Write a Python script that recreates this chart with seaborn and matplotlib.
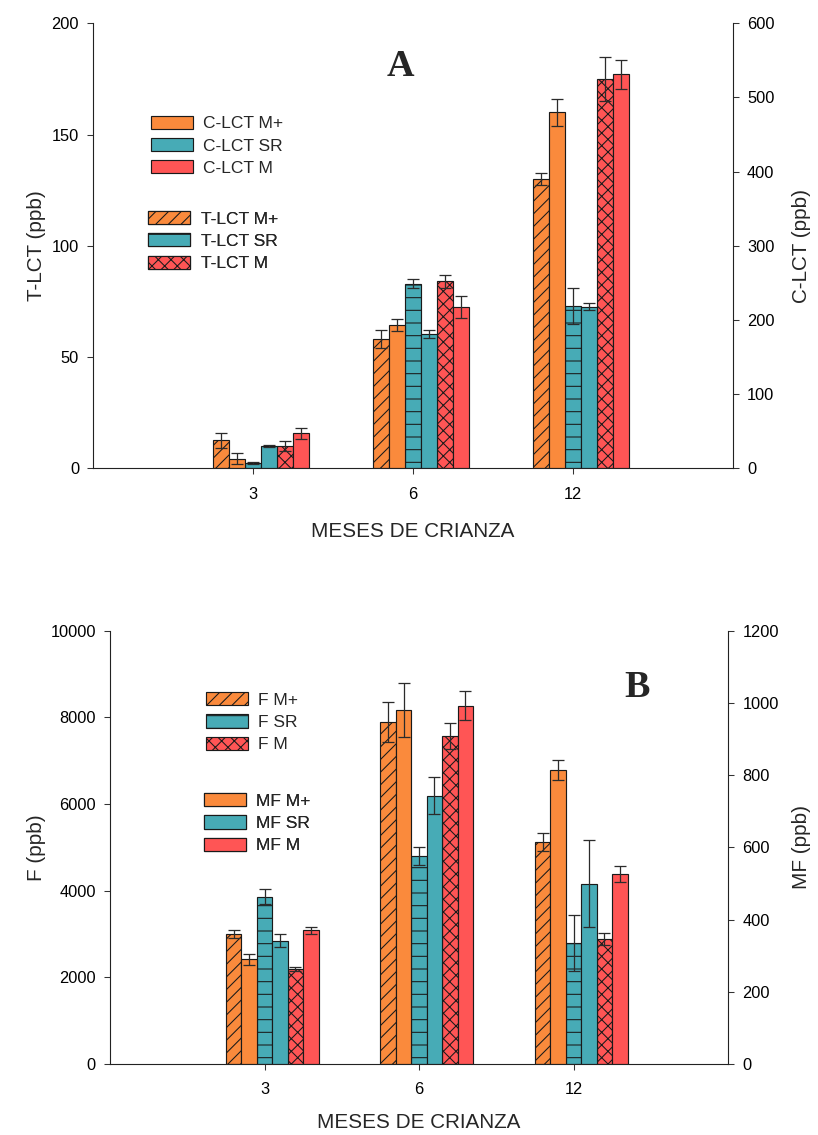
import matplotlib
matplotlib.use("Agg")
import matplotlib.pyplot as plt
import seaborn as sns
import pandas as pd
from matplotlib.patches import Patch

# ---------------- data ----------------
months = ["3", "6", "12"]

# Panel A (T-LCT on left axis, C-LCT on right axis), ppb
t_lct_mplus = [12.5, 58, 130]
t_lct_mplus_err = [3.5, 4, 2.7]
c_lct_mplus = [13, 193, 480]
c_lct_mplus_err = [7, 8, 18]
t_lct_sr = [2.5, 83, 73]
t_lct_sr_err = [0.5, 2, 8]
c_lct_sr = [30, 181, 218]
c_lct_sr_err = [1, 5, 5]
t_lct_m = [10, 84, 175]
t_lct_m_err = [2.2, 3, 10]
c_lct_m = [47, 217, 531]
c_lct_m_err = [7.5, 15, 19]

# Panel B (F on left axis, MF on right axis), ppb
f_mplus = [3000, 7900, 5115]
f_mplus_err = [100, 460, 210]
mf_mplus = [290, 981, 815]
mf_mplus_err = [15, 75, 28]
f_sr = [3860, 4800, 2800]
f_sr_err = [170, 215, 650]
mf_sr = [341, 743, 499]
mf_sr_err = [18, 52, 120]
f_m = [2190, 7570, 2890]
f_m_err = [55, 290, 140]
mf_m = [370, 992, 526]
mf_m_err = [10, 40, 22]

xlabel = "MESES DE CRIANZA"

# ---------------- style ----------------
ORANGE = "#FA8A3C"
TEAL = "#47ABB6"
RED = "#FF5555"
EDGE = "#1a1a1a"
ERRC = "#2b2b2b"

sns.set_style("ticks")
plt.rcParams["font.family"] = ["Liberation Sans", "DejaVu Sans"]
plt.rcParams["hatch.linewidth"] = 1.0
plt.rcParams["hatch.color"] = "black"
plt.rcParams["axes.linewidth"] = 1.0

DPI = 76
fig = plt.figure(figsize=(818 / DPI, 1135 / DPI), dpi=DPI)

TICK_FS = 15.5
LAB_FS = 19.5
LEG_FS = 16.5


def draw_panel(rect, series, left_lim, left_ticks, right_lim, right_ticks,
               left_label, right_label, letter, letter_xy, legends,
               ylab_left_x, ylab_right_x, xlab_y):
    axl = fig.add_axes(rect)
    axr = axl.twinx()
    names = [s[0] for s in series]
    palette = {s[0]: s[3] for s in series}
    for name, vals, errs, color, hatch, side in series:
        ax = axl if side == "L" else axr
        n0 = len(ax.patches)
        df = pd.DataFrame({"mes": months, "val": vals, "serie": [name] * len(months)})
        sns.barplot(data=df, x="mes", y="val", hue="serie", hue_order=names,
                    order=months, palette=palette, width=0.6, dodge=True,
                    errorbar=None, legend=False, saturation=1, ax=ax,
                    hatch=hatch, edgecolor=EDGE, linewidth=1.1, zorder=2)
        new = sorted(ax.patches[n0:], key=lambda p: p.get_x())
        xs = [p.get_x() + p.get_width() / 2 for p in new]
        hs = [p.get_height() for p in new]
        ax.errorbar(xs, hs, yerr=errs, fmt="none", ecolor=ERRC, elinewidth=1.2,
                    capsize=6, capthick=1.2, zorder=5)

    for ax in (axl, axr):
        ax.set_xlim(-1.05, 2.95)
        ax.spines["top"].set_visible(False)
        for sp in ax.spines.values():
            sp.set_color("#222222")
        ax.tick_params(direction="out", length=5.5, width=1, colors="#333333",
                       labelcolor="black", labelsize=TICK_FS)
    axl.set_ylim(*left_lim)
    axl.set_yticks(left_ticks)
    axr.set_ylim(*right_lim)
    axr.set_yticks(right_ticks)
    axl.tick_params(axis="y", pad=8)
    axr.tick_params(axis="y", pad=8)
    axl.set_xticks([i - 0.05 for i in range(len(months))], months)
    axl.tick_params(axis="x", pad=12)
    axl.set_xlabel(xlabel, fontsize=LAB_FS)
    axl.xaxis.set_label_coords(0.5, xlab_y)
    axr.set_xlabel("")
    axl.set_ylabel(left_label, fontsize=LAB_FS)
    axl.yaxis.set_label_coords(ylab_left_x, 0.5)
    axr.set_ylabel(right_label, fontsize=LAB_FS)
    axr.yaxis.set_label_coords(ylab_right_x, 0.5)

    axl.text(letter_xy[0], letter_xy[1], letter, transform=axl.transAxes,
             ha="center", va="center", fontsize=36, fontweight="bold",
             family=["Liberation Serif", "DejaVu Serif"])

    for idxs, anchor in legends:
        handles = [Patch(facecolor=series[i][3], edgecolor=EDGE,
                         hatch=series[i][4], linewidth=1.1,
                         label=series[i][0]) for i in idxs]
        leg = axr.legend(handles=handles, loc="upper left", bbox_to_anchor=anchor,
                         bbox_transform=axl.transAxes, frameon=False,
                         fontsize=LEG_FS, handlelength=2.4, handleheight=0.78,
                         labelspacing=0.38, handletextpad=0.6,
                         borderaxespad=0, borderpad=0)
        axr.add_artist(leg)
    return axl, axr


# Panel A
series_a = [
    ("T-LCT M+", t_lct_mplus, t_lct_mplus_err, ORANGE, "//", "L"),
    ("C-LCT M+", c_lct_mplus, c_lct_mplus_err, ORANGE, None, "R"),
    ("T-LCT SR", t_lct_sr, t_lct_sr_err, TEAL, "-", "L"),
    ("C-LCT SR", c_lct_sr, c_lct_sr_err, TEAL, None, "R"),
    ("T-LCT M", t_lct_m, t_lct_m_err, RED, "xx", "L"),
    ("C-LCT M", c_lct_m, c_lct_m_err, RED, None, "R"),
]
rect_a = [93.3 / 818, 1 - 468.3 / 1135, (732.7 - 93.3) / 818, (468.3 - 23.3) / 1135]
draw_panel(rect_a, series_a, (0, 200), [0, 50, 100, 150, 200],
           (0, 600), [0, 100, 200, 300, 400, 500, 600],
           "T-LCT (ppb)", "C-LCT (ppb)", "A", (0.48, 0.902),
           [([1, 3, 5], (0.090, 0.792)), ([0, 2, 4], (0.086, 0.578))],
           -0.074, 1.093, -0.121)

# Panel B
series_b = [
    ("F M+", f_mplus, f_mplus_err, ORANGE, "//", "L"),
    ("MF M+", mf_mplus, mf_mplus_err, ORANGE, None, "R"),
    ("F SR", f_sr, f_sr_err, TEAL, "-", "L"),
    ("MF SR", mf_sr, mf_sr_err, TEAL, None, "R"),
    ("F M", f_m, f_m_err, RED, "xx", "L"),
    ("MF M", mf_m, mf_m_err, RED, None, "R"),
]
rect_b = [110 / 818, 1 - 1064 / 1135, (728 - 110) / 818, (1064 - 630.7) / 1135]
draw_panel(rect_b, series_b, (0, 10000), [0, 2000, 4000, 6000, 8000, 10000],
           (0, 1200), [0, 200, 400, 600, 800, 1000, 1200],
           "F (ppb)", "MF (ppb)", "B", (0.853, 0.868),
           [([0, 2, 4], (0.155, 0.858)), ([1, 3, 5], (0.152, 0.625))],
           -0.104, 1.104, -0.113)

fig.savefig("out.png", dpi=DPI)
